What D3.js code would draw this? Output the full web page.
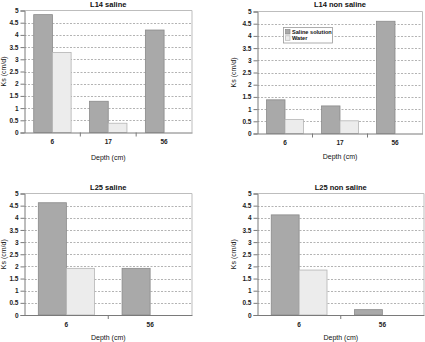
<!DOCTYPE html>
<html><head><meta charset="utf-8">
<script src="https://cdn.jsdelivr.net/npm/d3@7"></script>
<style>body{margin:0;background:#fff}svg{display:block}text{font-family:"Liberation Sans",Arial,sans-serif}</style>
</head><body><svg id="c" width="425" height="342"></svg>
<script>
const seriesNames = ["Saline solution", "Water"];
const yTicks = [0,0.5,1,1.5,2,2.5,3,3.5,4,4.5,5];
const titles = ["L14 saline","L14 non saline","L25 saline","L25 non saline"];
const depthsL14 = ["6","17","56"];
const depthsL25 = ["6","56"];
const l14SalineSaline = [4.83, 1.28, 4.2];
const l14SalineWater = [3.28, 0.38, null];
const l14NonSalineSaline = [1.38, 1.13, 4.6];
const l14NonSalineWater = [0.57, 0.52, null];
const l25SalineSaline = [4.62, 1.92];
const l25SalineWater = [1.92, null];
const l25NonSalineSaline = [4.12, 0.22];
const l25NonSalineWater = [1.85, null];

const panels = [
 {title:titles[0], cats:depthsL14, s:[l14SalineSaline,l14SalineWater], L:24.5,R:192,T:10.5,B:132.5, ty:4, yt:3.5, xt:159.5, legend:false},
 {title:titles[1], cats:depthsL14, s:[l14NonSalineSaline,l14NonSalineWater], L:257.5,R:422.5,T:11.5,B:133.5, ty:4, yt:233, xt:158.5, legend:true},
 {title:titles[2], cats:depthsL25, s:[l25SalineSaline,l25SalineWater], L:24.5,R:192,T:193.5,B:315, ty:187, yt:3.5, xt:339.5, legend:false},
 {title:titles[3], cats:depthsL25, s:[l25NonSalineSaline,l25NonSalineWater], L:257.5,R:424,T:193.5,B:315, ty:187, yt:233, xt:339.5, legend:false}
];
const fills = ["#a9a9a9","#ececec"];
const strokes = ["#8a8a8a","#b4b4b4"];
const svg = d3.select("#c");

panels.forEach(p=>{
  const g = svg.append("g");
  const x0 = d3.scaleBand().domain(p.cats).range([p.L,p.R]).padding(0);
  const bw = x0.bandwidth();
  const x1 = d3.scaleBand().domain(seriesNames).range([bw*0.165, bw*0.835]).padding(0);
  const y = d3.scaleLinear().domain([0,5]).range([p.B,p.T]);
  g.selectAll("line.grid").data(yTicks.filter(v=>v>0&&v<5)).join("line")
    .attr("x1",p.L).attr("x2",p.R).attr("y1",d=>Math.round(y(d))+0.5).attr("y2",d=>Math.round(y(d))+0.5)
    .attr("stroke","#a0a0a0").attr("stroke-width",0.8).attr("stroke-dasharray","2,1.5");
  g.append("path").attr("d",`M${p.L},${p.T}H${p.R}V${p.B}`).attr("fill","none").attr("stroke","#bdbdbd").attr("stroke-width",1);
  seriesNames.forEach((sn,si)=>{
    const vals = p.s[si];
    g.selectAll("rect.s"+si).data(p.cats.map((c,i)=>({c,v:vals[i]})).filter(d=>d.v!=null)).join("rect")
      .attr("x",d=>x0(d.c)+x1(sn)).attr("width",x1.bandwidth())
      .attr("y",d=>y(d.v)).attr("height",d=>y(0)-y(d.v))
      .attr("fill",fills[si]).attr("stroke",strokes[si]).attr("stroke-width",0.8);
  });
  const ya = d3.axisLeft(y).tickValues(yTicks).tickSize(4).tickPadding(2).tickFormat(d3.format("~g"));
  const yg = g.append("g").attr("transform",`translate(${p.L},0)`).call(ya);
  yg.select(".domain").attr("stroke","#7a7a7a");
  yg.selectAll(".tick line").attr("stroke","#7a7a7a");
  yg.selectAll("text").attr("font-size",6.5).attr("font-weight","bold").attr("fill","#222");
  const xa = d3.axisBottom(x0).tickSize(0).tickPadding(7);
  const xg = g.append("g").attr("transform",`translate(0,${p.B})`).call(xa);
  xg.select(".domain").attr("stroke","#7a7a7a");
  xg.selectAll("text").attr("font-size",6.5).attr("font-weight","bold").attr("fill","#222");
  g.selectAll("line.bt").data(p.cats.slice(1)).join("line")
    .attr("x1",d=>x0(d)).attr("x2",d=>x0(d)).attr("y1",p.B).attr("y2",p.B+4).attr("stroke","#7a7a7a");
  g.append("text").attr("x",(p.L+p.R)/2).attr("y",p.ty+3).attr("text-anchor","middle")
    .attr("font-size",7.5).attr("font-weight","bold").attr("fill","#111").text(p.title);
  g.append("text").attr("x",(p.L+p.R)/2).attr("y",p.xt).attr("text-anchor","middle")
    .attr("font-size",7).attr("fill","#111").text("Depth (cm)");
  g.append("text").attr("transform",`translate(${p.yt+2.5},${(p.T+p.B)/2}) rotate(-90)`).attr("text-anchor","middle")
    .attr("font-size",7).attr("fill","#111").text("Ks (cm/d)");
  if(p.legend){
    const lg = g.append("g").attr("transform","translate(283.5,27.5)");
    lg.append("rect").attr("width",49).attr("height",15.5).attr("fill","#fff").attr("stroke","#999").attr("stroke-width",0.8);
    seriesNames.forEach((sn,i)=>{
      lg.append("rect").attr("x",2).attr("y",2+i*6.3).attr("width",4.5).attr("height",4.5).attr("fill",fills[i]).attr("stroke",strokes[i]).attr("stroke-width",0.7);
      lg.append("text").attr("x",8.5).attr("y",6.5+i*6.3).attr("font-size",5.6).attr("font-weight","bold").attr("fill","#111").text(sn);
    });
  }
});
</script></body></html>
